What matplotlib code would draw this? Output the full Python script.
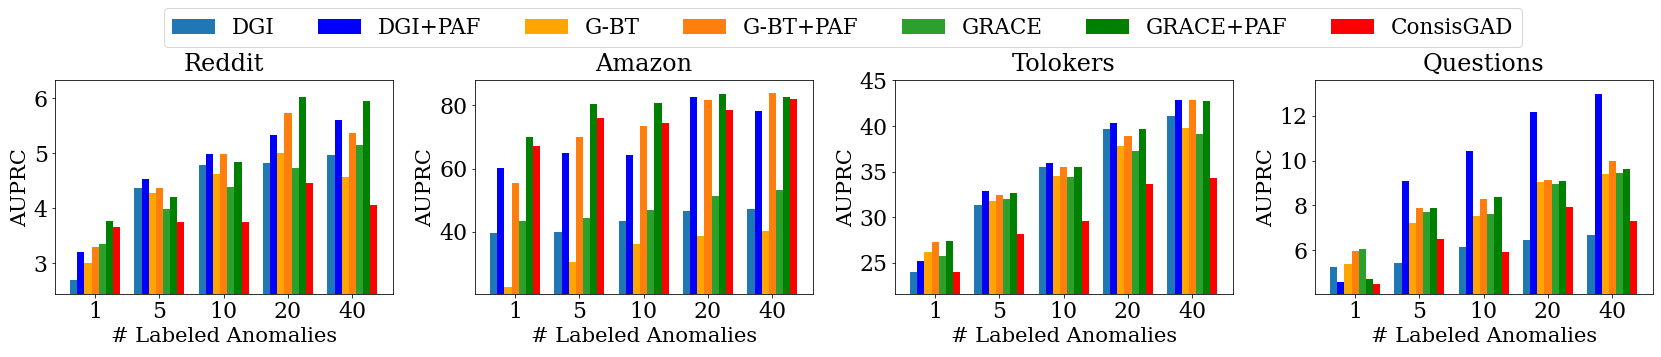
import numpy as np
import matplotlib
matplotlib.use('Agg')
import matplotlib.pyplot as plt
from matplotlib.ticker import MaxNLocator

plt.rcParams['font.family'] = 'DejaVu Serif'

#--------------------------------------------------------------------------------------------------
# DATA
#--------------------------------------------------------------------------------------------------

labeled = ['1', '5', '10', '20', '40']
methods = ['DGI', 'DGI+PAF', 'G-BT', 'G-BT+PAF', 'GRACE', 'GRACE+PAF', 'ConsisGAD']
colors = ['tab:blue', 'blue', 'orange', 'tab:orange', 'tab:green', 'green', 'red']
datasets = ['Reddit', 'Amazon', 'Tolokers', 'Questions']

# rows: methods, columns: # labeled anomalies
reddit = [
    [2.70, 4.37, 4.78, 4.82, 4.96],
    [3.20, 4.53, 4.98, 5.33, 5.60],
    [3.00, 4.27, 4.62, 5.00, 4.56],
    [3.29, 4.37, 4.99, 5.73, 5.36],
    [3.35, 3.99, 4.38, 4.73, 5.15],
    [3.77, 4.20, 4.84, 6.03, 5.95],
    [3.65, 3.74, 3.74, 4.45, 4.05],
]
amazon = [
    [39.5, 39.8, 43.5, 46.5, 47.1],
    [60.3, 64.9, 64.2, 82.8, 78.3],
    [22.3, 30.2, 36.1, 38.5, 40.2],
    [55.3, 70.1, 73.4, 81.6, 83.9],
    [43.2, 44.4, 46.8, 51.3, 53.1],
    [70.1, 80.4, 80.7, 83.8, 82.8],
    [67.1, 76.0, 74.3, 78.7, 81.9],
]
tolokers = [
    [23.95, 31.36, 35.55, 39.65, 41.10],
    [25.25, 32.93, 35.98, 40.31, 42.90],
    [26.24, 31.76, 34.56, 37.76, 39.76],
    [27.33, 32.45, 35.50, 38.93, 42.85],
    [25.80, 32.05, 34.38, 37.29, 39.15],
    [27.36, 32.64, 35.47, 39.69, 42.75],
    [23.95, 28.16, 29.55, 33.62, 34.35],
]
questions = [
    [5.26, 5.44, 6.15, 6.44, 6.68],
    [4.56, 9.07, 10.43, 12.15, 12.95],
    [5.39, 7.23, 7.53, 9.05, 9.41],
    [5.97, 7.90, 8.28, 9.11, 9.99],
    [6.04, 7.69, 7.60, 8.95, 9.45],
    [4.73, 7.90, 8.36, 9.07, 9.61],
    [4.47, 6.49, 5.91, 7.91, 7.30],
]
all_data = [reddit, amazon, tolokers, questions]

#--------------------------------------------------------------------------------------------------
# PLOT
#--------------------------------------------------------------------------------------------------

fig, axes = plt.subplots(1, 4, figsize=(1661 / 72, 357 / 72), dpi=72)
fig.subplots_adjust(left=0.033, right=0.995, bottom=0.1755, top=0.776, wspace=0.243)

x = np.arange(len(labeled))
width = 0.111

for ax, name, data in zip(axes, datasets, all_data):
    data = np.array(data)
    for i, (m, c) in enumerate(zip(methods, colors)):
        ax.bar(x + (i - 3) * width, data[i], width, color=c, label=m)
    ax.set_ylim(data.min() * 0.9, data.max() * 1.05)
    ax.yaxis.set_major_locator(MaxNLocator(nbins=5, steps=[1, 2, 2.5, 5, 10]))
    ax.set_xticks(x)
    ax.set_xticklabels(labeled)
    ax.set_title(name, fontsize=24, pad=9)
    ax.set_xlabel('# Labeled Anomalies', fontsize=21)
    ax.set_ylabel('AUPRC', fontsize=21)
    ax.tick_params(labelsize=22)

handles, labels = axes[0].get_legend_handles_labels()
fig.legend(handles, labels, loc='upper left', ncol=7, fontsize=21.5,
           bbox_to_anchor=(163.5 / 1661, 1 - 8 / 357), borderaxespad=0)

plt.savefig('out.png', dpi=72)
